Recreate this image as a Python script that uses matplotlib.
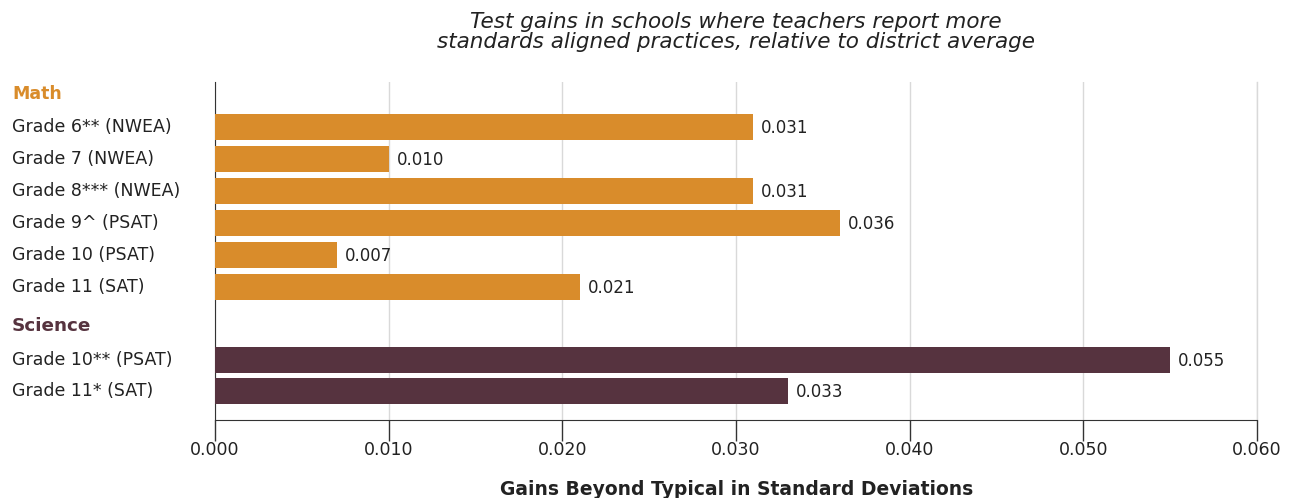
import matplotlib.pyplot as plt
import matplotlib.transforms as mtransforms

plt.rcParams['font.family'] = ['DejaVu Sans']

math_labels = ["Grade 6** (NWEA)", "Grade 7 (NWEA)", "Grade 8*** (NWEA)",
               "Grade 9^ (PSAT)", "Grade 10 (PSAT)", "Grade 11 (SAT)"]
math_values = [0.031, 0.010, 0.031, 0.036, 0.007, 0.021]
science_labels = ["Grade 10** (PSAT)", "Grade 11* (SAT)"]
science_values = [0.055, 0.033]
x_ticks = [0.000, 0.010, 0.020, 0.030, 0.040, 0.050, 0.060]

orange = '#D98C2B'
maroon = '#56333F'

math_pos = [0, 1, 2, 3, 4, 5]
science_pos = [7.28, 8.25]

fig = plt.figure(figsize=(12.96, 4.98), dpi=100)
ax = fig.add_axes([0.1659, 0.1566, 0.804, 0.6787])

ax.barh(math_pos, math_values, height=0.82, color=orange, zorder=3)
ax.barh(science_pos, science_values, height=0.82, color=maroon, zorder=3)

for p, v in zip(math_pos + science_pos, math_values + science_values):
    ax.text(v + 0.00045, p + 0.05, f"{v:.3f}", va='center', ha='left',
            fontsize=12, color='#222222')

ax.set_xlim(0, 0.060)
ax.set_ylim(9.16, -1.4)
ax.set_xticks(x_ticks)
ax.set_xticklabels([f"{t:.3f}" for t in x_ticks], fontsize=12.5, color='#222222')
ax.set_yticks([])
ax.grid(axis='x', color='#d9d9d9', linewidth=1, zorder=0)
ax.axvline(x_ticks[-1], color='#d9d9d9', linewidth=1, zorder=0, clip_on=False)
ax.tick_params(axis='x', length=15, width=1, color='#333333', pad=0)

for s in ['top', 'right']:
    ax.spines[s].set_visible(False)
ax.spines['left'].set_color('#333333')
ax.spines['bottom'].set_color('#333333')

# category labels on the left
trans = mtransforms.blended_transform_factory(fig.transFigure, ax.transData)
x0 = 12 / 1296
ax.text(x0, -1.03, "Math", transform=trans, ha='left', va='center',
        fontsize=12.5, fontweight='bold', color=orange)
ax.text(x0, 6.22, "Science", transform=trans, ha='left', va='center',
        fontsize=13.2, fontweight='bold', color=maroon)
for p, lab in zip(math_pos + science_pos, math_labels + science_labels):
    ax.text(x0, p, lab, transform=trans, ha='left', va='center',
            fontsize=12.5, color='#222222')

fig.text(0.568, 1 - 32 / 498,
         "Test gains in schools where teachers report more\n"
         "standards aligned practices, relative to district average",
         ha='center', va='center', fontsize=15.5, style='italic',
         color='#222222', linespacing=0.95)
fig.text(0.568, 1 - 489 / 498, "Gains Beyond Typical in Standard Deviations",
         ha='center', va='center', fontsize=13.5, fontweight='bold',
         color='#222222')

fig.savefig('out.png', dpi=100)
